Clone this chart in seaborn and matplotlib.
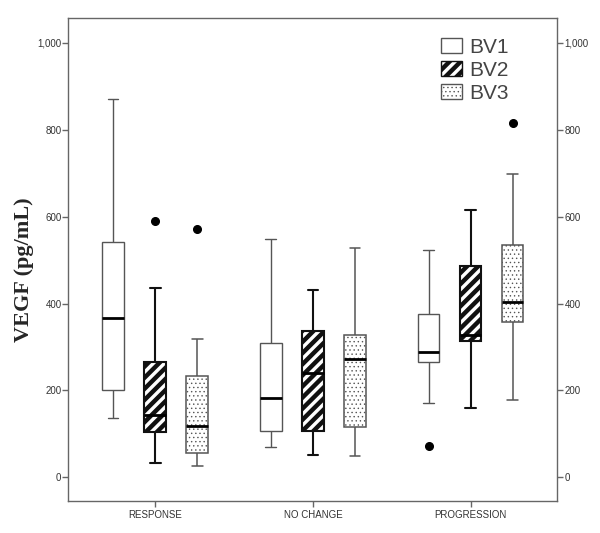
import numpy as np
import pandas as pd
import seaborn as sns
import matplotlib.pyplot as plt
from matplotlib.patches import Patch
from matplotlib.ticker import FuncFormatter

# categories
outcomes = ["RESPONSE", "NO CHANGE", "PROGRESSION"]
visits = ["BV1", "BV2", "BV3"]

# box statistics (pg/mL), one value per outcome
bv1_low = [137, 70, 171]
bv1_q1 = [200, 107, 265]
bv1_med = [366, 182, 289]
bv1_q3 = [541, 310, 376]
bv1_high = [870, 548, 524]
bv1_out = [None, None, 72]

bv2_low = [33, 51, 160]
bv2_q1 = [105, 107, 314]
bv2_med = [144, 241, 327]
bv2_q3 = [265, 336, 486]
bv2_high = [436, 432, 615]
bv2_out = [590, None, None]

bv3_low = [26, 50, 177]
bv3_q1 = [57, 117, 358]
bv3_med = [119, 272, 404]
bv3_q3 = [233, 327, 535]
bv3_high = [319, 528, 698]
bv3_out = [572, None, 815]

y_ticks = [0, 200, 400, 600, 800, 1000]


def sample_from_stats(low, q1, med, q3, high, out):
    # 9 values so np.percentile lands exactly on q1 / median / q3
    lo_tail = [low, low]
    hi_tail = [high, high]
    if out is not None:
        if out > high:
            hi_tail = [high, out]
        else:
            lo_tail = [out, low]
    return lo_tail + [q1, med, med, q3, q3] + hi_tail


stats = {
    "BV1": (bv1_low, bv1_q1, bv1_med, bv1_q3, bv1_high, bv1_out),
    "BV2": (bv2_low, bv2_q1, bv2_med, bv2_q3, bv2_high, bv2_out),
    "BV3": (bv3_low, bv3_q1, bv3_med, bv3_q3, bv3_high, bv3_out),
}

rows = []
for v in visits:
    cols = stats[v]
    for i, oc in enumerate(outcomes):
        for val in sample_from_stats(*[c[i] for c in cols]):
            rows.append({"outcome": oc, "visit": v, "vegf": val})
df = pd.DataFrame(rows)

styles = {
    "BV1": dict(edge="#555555", lw=1.0, hatch=None, hcolor="#555555", hlw=0.5),
    "BV2": dict(edge="#111111", lw=1.5, hatch="///", hcolor="#111111", hlw=3.2),
    "BV3": dict(edge="#555555", lw=1.1, hatch="....", hcolor="#b5b5b5", hlw=0.5),
}

sns.set_style("white")
plt.rcParams["font.family"] = ["Liberation Sans", "DejaVu Sans"]
plt.rcParams["hatch.linewidth"] = 0.5

fig = plt.figure(figsize=(6, 5.33), dpi=100)
ax = fig.add_axes([0.114, 0.0595, 0.815, 0.9065])


def style_patch(p, st):
    if st["hatch"] is None:
        return
    p.set_hatch(st["hatch"])
    if hasattr(p, "set_hatchcolor"):
        p.set_hatchcolor(st["hcolor"])
    # hatch width is stored on the patch when it is created
    if hasattr(p, "set_hatch_linewidth"):
        p.set_hatch_linewidth(st["hlw"])
    elif hasattr(p, "_hatch_linewidth"):
        p._hatch_linewidth = st["hlw"]


for v in visits:
    st = styles[v]
    n0 = len(ax.patches)
    with plt.rc_context({"hatch.linewidth": st["hlw"]}):
        sns.boxplot(data=df[df.visit == v], x="outcome", y="vegf", hue="visit",
                    order=outcomes, hue_order=visits,
                    palette={k: "white" for k in visits},
                    width=0.8, gap=0.49, dodge=True,
                    linecolor=st["edge"], linewidth=st["lw"],
                    medianprops=dict(color="black", linewidth=2.0),
                    flierprops=dict(marker="o", markerfacecolor="black",
                                    markeredgecolor="black", markersize=5.5),
                    legend=False, ax=ax)
    for p in ax.patches[n0:]:
        style_patch(p, st)

ax.set_xlim(-0.55, 2.55)
ax.set_ylim(-55, 1057)
ax.set_yticks(y_ticks)
ax.yaxis.set_major_formatter(FuncFormatter(lambda x, pos: f"{x:,.0f}"))
ax.set_xlabel("")
ax.set_ylabel("VEGF (pg/mL)", family=["Liberation Serif", "DejaVu Serif"],
              fontweight="bold", fontsize=16)
ax.yaxis.set_label_coords(-0.07, 0.48)

for s in ax.spines.values():
    s.set_visible(True)
    s.set_color("#666666")
    s.set_linewidth(1.0)

ax.tick_params(axis="both", which="both", direction="out", length=4,
               width=1, color="#666666", labelsize=7, labelcolor="#333333", pad=1)
ax.tick_params(axis="y", left=True, right=True, labelleft=True, labelright=True)
ax.tick_params(axis="x", bottom=True, pad=2)

handles = [Patch(facecolor="white", edgecolor=styles[v]["edge"], linewidth=1.0,
                 label=v) for v in visits]
leg = ax.legend(handles=handles, loc="upper left", bbox_to_anchor=(0.741, 0.981),
                frameon=False, fontsize=15, handlelength=1.0, handleheight=0.75,
                handletextpad=0.35, labelspacing=0.2, borderpad=0,
                labelcolor="#444444")
for p, v in zip(leg.get_patches(), visits):
    style_patch(p, styles[v])

fig.savefig("out.png", dpi=100)
